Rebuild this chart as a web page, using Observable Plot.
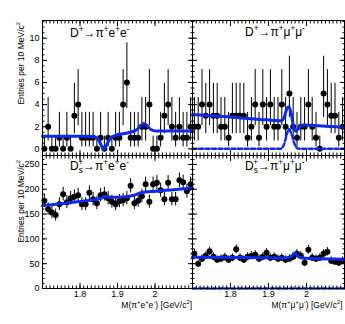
<!DOCTYPE html>
<html><head><meta charset="utf-8">
<script src="https://cdn.jsdelivr.net/npm/d3@7"></script>
<script src="https://cdn.jsdelivr.net/npm/@observablehq/plot@0.6"></script>
<style>
body{margin:0;background:#fff;}
#c{position:relative;width:345px;height:324px;overflow:hidden;font-family:"Liberation Sans",Arial,sans-serif;}
#c > div{position:absolute;}
#c svg{overflow:visible;display:block;}
</style></head><body><div id="c"></div>
<script>
// bin centres (GeV/c^2), 10 MeV bins
const binCenters = [1.705,1.715,1.725,1.735,1.745,1.755,1.765,1.775,1.785,1.795,1.805,1.815,1.825,1.835,1.845,1.855,1.865,1.875,1.885,1.895,1.905,1.915,1.925,1.935,1.945,1.955,1.965,1.975,1.985,1.995,2.005,2.015,2.025,2.035,2.045,2.055,2.065,2.075,2.085,2.095];

// counts per bin
const countsDee   = [0,2,0,0,1,0,1,0,3,4,1,1,1,1,0,1,0,1,0,1,1,4,6,1,1,1,2,2,4,0,0,1,3,4,2,1,2,1,1,2];
const countsDmumu = [2,2,4,3,4,3,3,2,2,1,3,3,3,3,1,2,4,1,4,2,4,2,2,4,2,5,2,1,2,2,4,2,1,0,5,4,3,3,1,2];
const countsDsee  = [177,160,153,148,170,190,174,182,185,188,170,170,193,180,172,188,190,182,175,170,176,178,182,207,172,177,186,210,175,210,213,198,180,213,180,180,218,214,196,210];
const countsDsmumu= [70,50,60,66,75,64,58,60,63,58,62,79,62,58,64,66,68,60,64,72,62,64,60,62,58,60,64,70,66,52,78,62,60,62,70,74,56,54,52,56];

// Poisson (68%) interval limits by count, small-count panels
const poissonLo = [0, 0.17, 0.71, 1.37, 2.09, 2.84, 3.62];
const poissonHi = [1.15, 3.30, 4.64, 5.92, 7.16, 8.38, 9.58];

// fitted curves
const fitDee_m = [1.700,1.794,1.835,1.846,1.854,1.863,1.873,1.882,1.898,1.929,1.950,1.962,1.970,1.979,1.989,2.002,2.100];
const fitDee_v = [1.15,1.15,1.12,0.95,0.5,-0.05,0.5,1.0,1.25,1.45,1.7,2.1,2.3,2.1,1.75,1.62,1.62];
const fitDmumu_m = [1.700,1.792,1.895,1.934,1.942,1.948,1.954,1.961,1.967,1.973,1.981,1.992,2.049,2.100];
const fitDmumu_v = [3.1,2.9,2.62,2.55,2.9,3.6,3.8,3.0,1.8,1.6,2.0,2.15,2.05,1.95];
const sigDmumu_m = [1.700,1.931,1.941,1.948,1.954,1.961,1.969,1.979,2.100];
const sigDmumu_v = [0,0,0.4,1.3,1.8,1.3,0.4,0,0];
const fitDsee_m = [1.700,1.794,1.858,1.866,1.877,1.903,1.944,1.962,2.002,2.100];
const fitDsee_v = [167,175,182,186,184,184,188,193,196,202];
const fitDsmumu_m = [1.700,1.844,1.946,1.959,1.969,1.979,1.989,2.100];
const fitDsmumu_v = [63,62.5,61.5,64,71,64,61.5,59];
const sigDsmumu_m = [1.700,2.100];
const sigDsmumu_v = [0,0];

// axis ticks
const xMajor = [1.7,1.8,1.9,2.0,2.1];
const xLabels = [1.8,1.9,2.0];
const yTopMajor = [0,2,4,6,8,10];
const yBotMajor = [0,50,100,150,200,250];

const BLUE = "#0b2cf0";
const FONT = "Liberation Sans, Arial, Helvetica, sans-serif";

function rich(g, x, y, parts, size, anchor, rotate) {
  const t = g.append("text")
    .attr("font-family", FONT).attr("font-size", size).attr("fill", "black")
    .attr("text-anchor", anchor || "start");
  if (rotate) t.attr("transform", `translate(${x},${y}) rotate(-90)`);
  else t.attr("x", x).attr("y", y);
  let shift = 0;
  for (const [s, kind, extra] of parts) {
    const ts = t.append("tspan").text(s);
    let target = 0, fs = size;
    if (kind === "sup") { target = -0.42 * size; fs = size * 0.68; }
    if (kind === "sub") { target = 0.25 * size; fs = size * 0.68; }
    ts.attr("font-size", fs);
    ts.attr("dy", target - shift);
    if (extra) ts.attr("dx", extra);
    shift = target;
  }
  return t;
}

function panel(o) {
  const pts = binCenters.map((m, i) => {
    const n = o.counts[i];
    return {m, n,
      lo: o.small ? poissonLo[n] : n - Math.sqrt(n),
      hi: o.small ? poissonHi[n] : n + Math.sqrt(n)};
  });
  const fit = o.fitM.map((m, i) => ({m, v: o.fitV[i]}));
  const sig = o.sigM ? o.sigM.map((m, i) => ({m, v: o.sigV[i]})) : null;
  const yMinor = d3.range(0, o.yDomain[1], o.yMinorStep);
  const xMinor = d3.range(0, 41).map(k => 1.70 + k * 0.01);
  const marks = [
    Plot.ruleX(pts, {x: "m", y1: "lo", y2: "hi", stroke: "black", strokeWidth: 1}),
    Plot.dot(pts, {x: "m", y: "n", r: 3, fill: "black", stroke: "none"}),
  ];
  if (sig) marks.push(Plot.line(sig, {x: "m", y: "v", stroke: BLUE, strokeWidth: 2.5, strokeDasharray: "4,2.5", curve: "monotone-x"}));
  marks.push(Plot.line(fit, {x: "m", y: "v", stroke: BLUE, strokeWidth: 3, curve: "monotone-x"}));
  marks.push(Plot.frame({stroke: "black", strokeWidth: 1}));
  for (const anchor of ["top", "bottom"]) {
    marks.push(Plot.axisX({anchor, ticks: xMajor, tickSize: -5, tickFormat: () => "", label: null}));
    marks.push(Plot.axisX({anchor, ticks: xMinor, tickSize: -2.5, tickFormat: () => "", label: null}));
  }
  for (const anchor of ["left", "right"]) {
    marks.push(Plot.axisY({anchor, ticks: o.yMajor, tickSize: -5, tickFormat: () => "", label: null}));
    marks.push(Plot.axisY({anchor, ticks: yMinor, tickSize: -2.5, tickFormat: () => "", label: null}));
  }
  if (o.yLabels) marks.push(Plot.axisY({anchor: "left", ticks: o.yMajor, tickSize: 0, tickPadding: 3, tickFormat: d => String(d), label: null, fontSize: 9}));
  if (o.xLabels) marks.push(Plot.axisX({anchor: "bottom", ticks: xLabels, tickSize: 0, tickPadding: 2, tickFormat: d => d === 2 ? "2" : d.toFixed(1), label: null, fontSize: 9}));

  const p = Plot.plot({
    width: o.w, height: o.h,
    marginLeft: o.ml, marginRight: o.mr, marginTop: o.mt, marginBottom: o.mb,
    x: {domain: [1.70, 2.10]},
    y: {domain: o.yDomain},
    style: {fontFamily: FONT, fontSize: "9px", color: "black", background: "transparent", overflow: "visible"},
    marks
  });
  const wrap = document.createElement("div");
  wrap.style.left = o.left + "px";
  wrap.style.top = o.top + "px";
  wrap.appendChild(p);
  document.getElementById("c").appendChild(wrap);
  const svg = d3.select(p.tagName.toLowerCase() === "svg" ? p : p.querySelector("svg"));
  rich(svg, o.ml + o.titleDx, o.mt + o.titleDy, o.title, 12, "start");
  if (o.yTitle) {
    rich(svg, 24, o.mt + o.yTitleDy, [["Entries per 10 MeV/c"], ["2", "sup"]], 8.5, "end", true);
  }
  if (o.xTitle) {
    rich(svg, o.w - o.mr + o.xTitleDx, o.h - o.mb + 20, o.xTitle, 8.5, "end");
  }
}

const titleDee = [["D"], ["+", "sup"], ["\u2192\u03c0"], ["+", "sup"], ["e"], ["+", "sup"], ["e"], ["-", "sup"]];
const titleDmumu = [["D"], ["+", "sup"], ["\u2192\u03c0"], ["+", "sup"], ["\u03bc"], ["+", "sup"], ["\u03bc"], ["-", "sup"]];
const titleDsee = [["D"], ["s", "sub"], ["+", "sup", -4.5], ["\u2192\u03c0"], ["+", "sup"], ["e"], ["+", "sup"], ["e"], ["-", "sup"]];
const titleDsmumu = [["D"], ["s", "sub"], ["+", "sup", -4.5], ["\u2192\u03c0"], ["+", "sup"], ["\u03bc"], ["+", "sup"], ["\u03bc"], ["-", "sup"]];
const xTitleEE = [["M(\u03c0"], ["+", "sup"], ["e"], ["+", "sup"], ["e"], ["-", "sup"], [") [GeV/c"], ["2", "sup"], ["]"]];
const xTitleMM = [["M(\u03c0"], ["+", "sup"], ["\u03bc"], ["+", "sup"], ["\u03bc"], ["-", "sup"], [") [GeV/c"], ["2", "sup"], ["]"]];

panel({counts: countsDee, small: true, fitM: fitDee_m, fitV: fitDee_v,
  yDomain: [-0.6, 11.6], yMajor: yTopMajor, yMinorStep: 0.5,
  left: 0, top: 0, w: 193, h: 156, ml: 42, mr: 1, mt: 20, mb: 1,
  yLabels: true, xLabels: false, title: titleDee, titleDx: 28, titleDy: 17, yTitle: true, yTitleDy: 2});
panel({counts: countsDmumu, small: true, fitM: fitDmumu_m, fitV: fitDmumu_v, sigM: sigDmumu_m, sigV: sigDmumu_v,
  yDomain: [-0.6, 11.6], yMajor: yTopMajor, yMinorStep: 0.5,
  left: 191, top: 0, w: 154, h: 156, ml: 1, mr: 1, mt: 20, mb: 1,
  yLabels: false, xLabels: false, title: titleDmumu, titleDx: 53, titleDy: 16});
panel({counts: countsDsee, small: false, fitM: fitDsee_m, fitV: fitDsee_v,
  yDomain: [0, 268], yMajor: yBotMajor, yMinorStep: 10,
  left: 0, top: 154, w: 193, h: 170, ml: 42, mr: 1, mt: 1, mb: 36,
  yLabels: true, xLabels: true, title: titleDsee, titleDx: 28, titleDy: 15, yTitle: true, yTitleDy: 5,
  xTitle: xTitleEE, xTitleDx: 0});
panel({counts: countsDsmumu, small: false, fitM: fitDsmumu_m, fitV: fitDsmumu_v, sigM: sigDsmumu_m, sigV: sigDsmumu_v,
  yDomain: [0, 268], yMajor: yBotMajor, yMinorStep: 10,
  left: 191, top: 154, w: 154, h: 170, ml: 1, mr: 1, mt: 1, mb: 36,
  yLabels: false, xLabels: true, title: titleDsmumu, titleDx: 53, titleDy: 15,
  xTitle: xTitleMM, xTitleDx: -1.5});
</script></body></html>
